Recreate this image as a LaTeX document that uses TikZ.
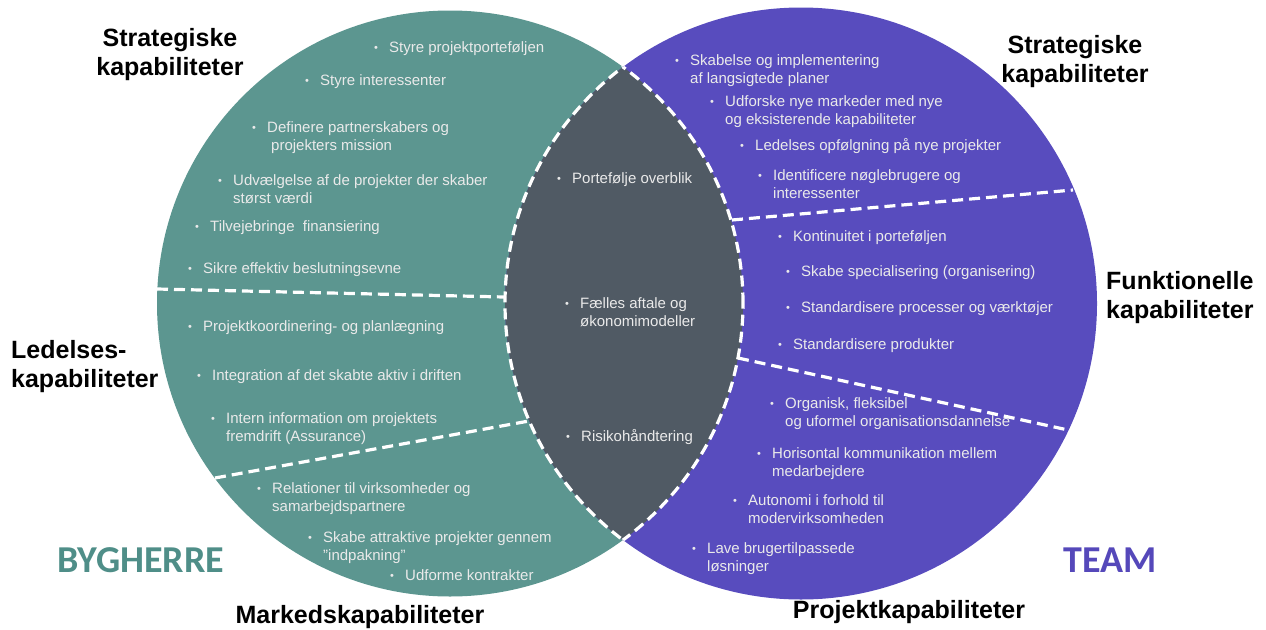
\documentclass[tikz,border=0pt]{standalone}
\usepackage{fontspec}
\setmainfont{Liberation Sans}
\newfontfamily\carl{Carlito}
\usetikzlibrary{calc}

\definecolor{tealc}{HTML}{5C9690}
\definecolor{purplec}{HTML}{584CBE}
\definecolor{lensc}{HTML}{505A64}
\definecolor{txtc}{HTML}{EAEAEA}
\definecolor{byc}{HTML}{4F8E88}
\definecolor{teamc}{HTML}{5548BA}

% small bullet followed by a left-aligned block of lines
\newcommand\bul{\makebox[15pt][l]{\raisebox{1pt}{\fontsize{11}{11}\selectfont\textbullet}}}
\newcommand\bitem[4]{\node[item] (#1) at (#2,#3+5) {\bul\begin{tabular}[t]{@{}l@{}}#4\end{tabular}};}

\tikzset{
  item/.style={anchor=base west, inner sep=0pt, text=txtc, font=\fontsize{15}{18}\selectfont},
  head/.style={inner sep=0pt, text=black, font=\fontsize{25}{29}\selectfont\bfseries},
  side/.style={inner sep=0pt, font=\fontsize{38}{40}\selectfont\carl\bfseries},
  dashline/.style={draw=white, line width=3.2pt, dash pattern=on 11pt off 6pt},
}

\begin{document}
\begin{tikzpicture}[x=1pt,y=-1pt]
\useasboundingbox (0,0) rectangle (1266,629);

\coordinate (T) at (450,303.5);
\coordinate (P) at (801,303.5);

% the two circles and their overlap
\fill[tealc] (T) circle[radius=293pt];
\fill[purplec] (P) circle[radius=296pt];
\begin{scope}
  \clip (T) circle[radius=293pt];
  \fill[lensc] (P) circle[radius=296pt];
  \draw[dashline] (P) circle[radius=296pt];
\end{scope}
\begin{scope}
  \clip (P) circle[radius=296pt];
  \draw[dashline] (T) circle[radius=293pt];
\end{scope}

% section dividers
\coordinate (l1a) at (157,289);  \coordinate (l1b) at (504,297);
\coordinate (l2a) at (215,478);  \coordinate (l2b) at (529,421);
\coordinate (r1a) at (732,220);  \coordinate (r1b) at (1073,190);
\coordinate (r2a) at (738,358);  \coordinate (r2b) at (1068,430);
\draw[dashline] (l1a) -- (l1b);
\draw[dashline] (l2a) -- (l2b);
\draw[dashline] (r1a) -- (r1b);
\draw[dashline] (r2a) -- (r2b);

% left circle
\bitem{a1}{374}{47}{Styre projektporteføljen}
\bitem{a2}{305}{80}{Styre interessenter}
\bitem{a3}{252}{127}{Definere partnerskabers og\\\hspace{4pt}projekters mission}
\bitem{a4}{218}{180}{Udvælgelse af de projekter der skaber\\størst værdi}
\bitem{a5}{195}{226}{Tilvejebringe\ \ finansiering}
\bitem{a6}{188}{268}{Sikre effektiv beslutningsevne}
\bitem{a7}{188}{326}{Projektkoordinering- og planlægning}
\bitem{a8}{197}{375}{Integration af det skabte aktiv i driften}
\bitem{a9}{211}{418}{Intern information om projektets\\fremdrift (Assurance)}
\bitem{a10}{257}{488}{Relationer til virksomheder og\\samarbejdspartnere}
\bitem{a11}{308}{537}{Skabe attraktive projekter gennem\\"indpakning"}
\bitem{a12}{390}{575}{Udforme kontrakter}

% overlap
\bitem{m1}{557}{178}{Portefølje overblik}
\bitem{m2}{565}{303}{Fælles aftale og\\økonomimodeller}
\bitem{m3}{566}{436}{Risikohåndtering}

% right circle
\bitem{b1}{675}{60}{Skabelse og implementering\\af langsigtede planer}
\bitem{b2}{710}{101}{Udforske nye markeder med nye\\og eksisterende kapabiliteter}
\bitem{b3}{740}{145}{Ledelses opfølgning på nye projekter}
\bitem{b4}{758}{175}{Identificere nøglebrugere og\\interessenter}
\bitem{b5}{778}{236}{Kontinuitet i porteføljen}
\bitem{b6}{786}{271}{Skabe specialisering (organisering)}
\bitem{b7}{786}{307}{Standardisere processer og værktøjer}
\bitem{b8}{778}{344}{Standardisere produkter}
\bitem{b9}{770}{403}{Organisk, fleksibel\\og uformel organisationsdannelse}
\bitem{b10}{757}{453}{Horisontal kommunikation mellem\\medarbejdere}
\bitem{b11}{733}{500}{Autonomi i forhold til\\modervirksomheden}
\bitem{b12}{692}{548}{Lave brugertilpassede\\løsninger}

% capability headings
\node[head, align=center] (h1) at (170,55) {Strategiske\\kapabiliteter};
\node[head, align=left, anchor=west] (h2) at (11,367) {Ledelses-\\kapabiliteter};
\node[head] (h3) at (360,617) {Markedskapabiliteter};
\node[head, align=center] (h4) at (1075,62) {Strategiske\\kapabiliteter};
\node[head, align=left, anchor=west] (h5) at (1106,298) {Funktionelle\\kapabiliteter};
\node[head] (h6) at (909,612) {Projektkapabiliteter};

% party names
\node[side, text=byc] (by) at (141,560) {BYGHERRE};
\node[side, text=teamc] (team) at (1110,560) {TEAM};
\end{tikzpicture}
\end{document}
